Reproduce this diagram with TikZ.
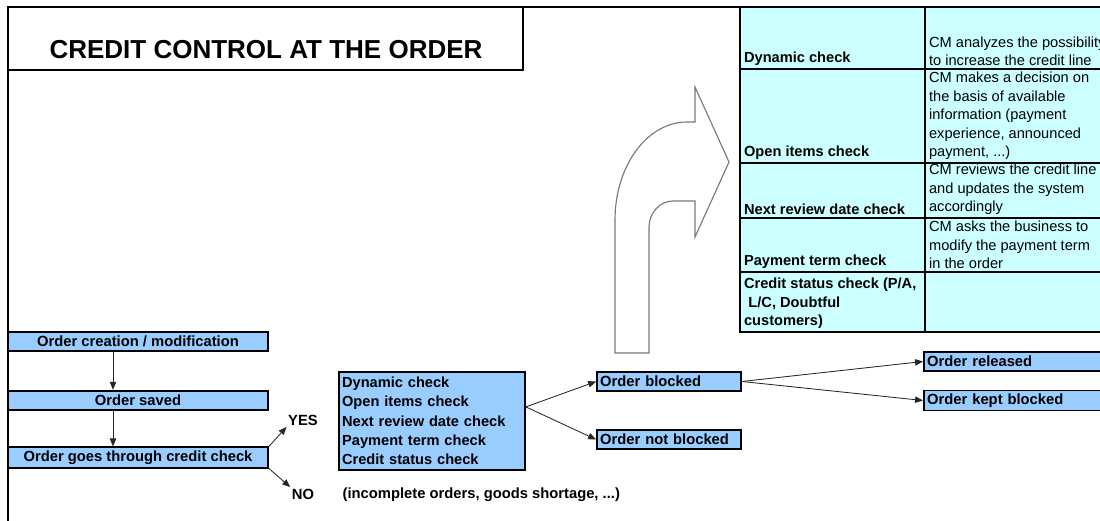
\documentclass[tikz,border=0pt]{standalone}
\usepackage{fontspec}
\setmainfont{Liberation Sans}
\definecolor{boxblue}{RGB}{153, 204, 255}
\definecolor{tablecyan}{RGB}{204, 255, 255}
\definecolor{shapegray}{RGB}{120, 120, 120}
\usepackage{tikz}
\usetikzlibrary{arrows.meta, positioning, calc}

\begin{document}
\begin{tikzpicture}[x=0.25mm, y=-0.25mm,
    frameline/.style={line width=1.3pt},
    flowbox/.style={draw, line width=1.3pt, fill=boxblue, inner sep=0.8mm,
      font=\fontsize{10.5}{12}\selectfont\bfseries, minimum height=4.9mm},
    flowarrow/.style={-{Triangle[length=2mm, width=1.6mm]}, line width=0.6pt, draw=black!85},
    cellhead/.style={anchor=south west, inner sep=2pt, align=left,
      font=\fontsize{10.4}{13.2}\selectfont\bfseries},
    cellnote/.style={anchor=south west, inner sep=2pt, align=left,
      font=\fontsize{10.4}{13.2}\selectfont},
    label/.style={inner sep=1pt, font=\fontsize{10.5}{12}\selectfont\bfseries}]
  \useasboundingbox (0,0) rectangle (1100,521);
  \clip (0,0) rectangle (1100,521);

  % Frame and title
  \draw[frameline] (8,530) -- (8,7) -- (1110,7);
  \draw[frameline] (8,70) -- (523,70) -- (523,7);
  \node[font=\fontsize{18.5}{20}\selectfont\bfseries] (title) at (266,50) {CREDIT CONTROL AT THE ORDER};

  % Table of checks and actions
  \draw[frameline, fill=tablecyan] (740,7) rectangle (1110,332);
  \draw[frameline] (925,7) -- (925,332);
  \foreach \y in {69,163,218,272}
    \draw[frameline] (740,\y) -- (1110,\y);
  \foreach \bot/\head/\note [count=\i] in {
      69/{Dynamic check}/{CM analyzes the possibility\\to increase the credit line},
      163/{Open items check}/{CM makes a decision on\\the basis of available\\information (payment\\experience, announced\\payment, ...)},
      218/{Next review date check}/{CM reviews the credit line\\and updates the system\\accordingly},
      272/{Payment term check}/{CM asks the business to\\modify the payment term\\in the order},
      332/{Credit status check (P/A,\\\hspace*{0.3em}L/C, Doubtful\\customers)}/{}} {
    \node[cellhead] (head\i) at (741,\bot) {\head};
    \node[cellnote] (note\i) at (926,\bot) {\note};
  }

  % Big turning arrow
  \draw[shapegray, line width=0.8pt, fill=white]
    (615,353) -- (615,220) .. controls (615,166) and (647,122) .. (687,122)
    -- (695,122) -- (695,87) -- (729,162) -- (695,237) -- (695,201)
    -- (673,201) .. controls (660,201) and (649,213) .. (649,227) -- (649,353) -- cycle;

  % Order flow
  \node[flowbox, minimum width=65mm] (create) at (138,341.5) {Order creation / modification};
  \node[flowbox, minimum width=65mm] (saved) at (138,400.5) {Order saved};
  \node[flowbox, minimum width=65mm] (credit) at (138,457.5) {Order goes through credit check};
  \coordinate (spine) at (113,0);
  \draw[flowarrow] (create.south -| spine) -- (saved.north -| spine);
  \draw[flowarrow] (saved.south -| spine) -- (credit.north -| spine);

  \node[label] (yes) at (303,420) {YES};
  \node[label] (no) at (303,494) {NO};
  \draw[flowarrow] (credit.north east) -- (yes.south west);
  \draw[flowarrow] (credit.south east) -- (no.north west);

  \node[flowbox, anchor=north west, text width=44.9mm, align=left,
    minimum height=24.5mm, font=\fontsize{10.4}{13.7}\selectfont\bfseries] (checks) at (338,371)
    {Dynamic check\\Open items check\\Next review date check\\Payment term check\\Credit status check};
  \node[label, anchor=west] (reasons) at (341,495) {(incomplete orders, goods shortage, ...)};

  \node[flowbox, text width=34.4mm, align=left] (blocked) at (669,381.5) {Order blocked};
  \node[flowbox, text width=34.4mm, align=left] (notblocked) at (669,439.5) {Order not blocked};
  \coordinate (split) at ($(checks.east)+(0,-14)$);
  \draw[flowarrow] (split) -- (blocked.west);
  \draw[flowarrow] (split) -- (notblocked.west);

  \node[flowbox, text width=44.4mm, align=left] (released) at (1016,361.5) {Order released};
  \node[flowbox, text width=44.4mm, align=left] (kept) at (1016,400.5) {Order kept blocked};
  \draw[flowarrow] (blocked.east) -- (released.west);
  \draw[flowarrow] (blocked.east) -- (kept.west);
\end{tikzpicture}
\end{document}
